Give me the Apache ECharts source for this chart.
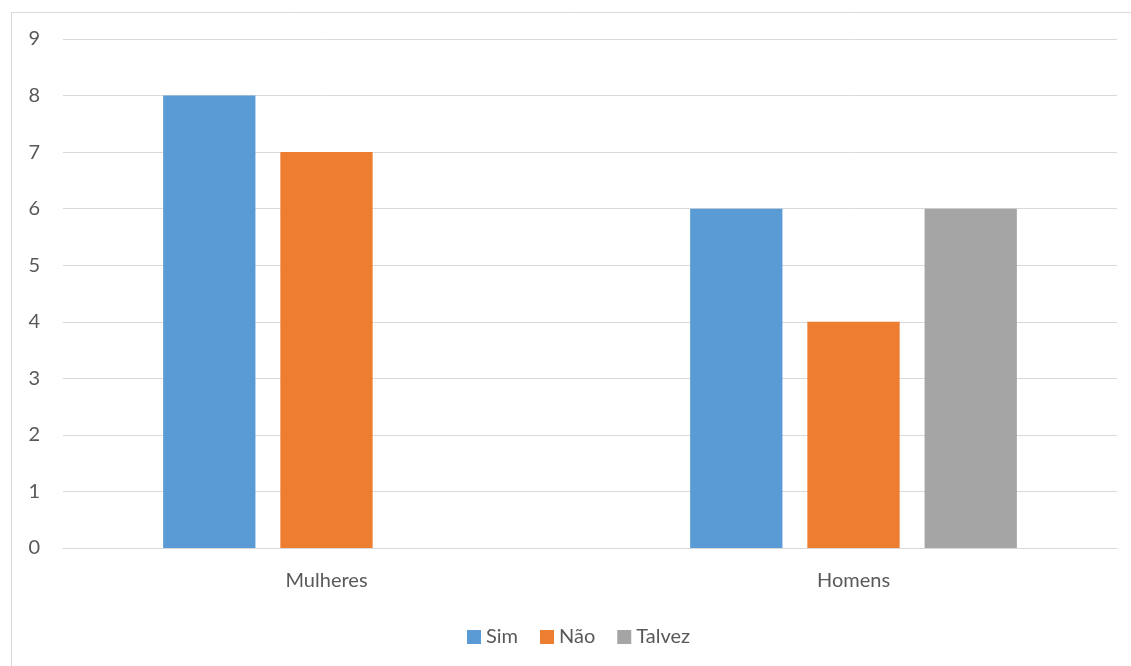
<!DOCTYPE html>
<html>
<head>
<meta charset="utf-8">
<style>
  html, body { margin: 0; padding: 0; background: #ffffff; }
  #chart { width: 1131px; height: 666px; }
</style>
<script src="https://cdn.jsdelivr.net/npm/echarts@6/dist/echarts.min.js"></script>
</head>
<body>
<div id="chart"></div>
<script>
// Survey answers by group
const categories = ['Mulheres', 'Homens'];
const seriesNames = ['Sim', 'Não', 'Talvez'];
const simValues = [8, 6];
const naoValues = [7, 4];
const talvezValues = [null, 6];
const seriesColors = ['#5b9bd5', '#ed7d31', '#a5a5a5'];

const font = 'Lato, "Open Sans", sans-serif';
const chart = echarts.init(document.getElementById('chart'), null, { renderer: 'canvas' });

const valueSets = [simValues, naoValues, talvezValues];

chart.setOption({
  animation: false,
  backgroundColor: '#ffffff',
  graphic: [{
    type: 'rect',
    shape: { x: 11.5, y: 12.5, width: 1130, height: 660 },
    style: { fill: 'none', stroke: '#d9d9d9', lineWidth: 1 },
    silent: true
  }],
  grid: { left: 63, right: 14, top: 39, bottom: 118, containLabel: false },
  legend: {
    bottom: 19,
    left: 467,
    padding: 0,
    itemWidth: 14,
    itemHeight: 14,
    itemGap: 22,
    icon: 'rect',
    textStyle: { color: '#595959', fontSize: 20, fontFamily: font },
    data: seriesNames
  },
  xAxis: {
    type: 'category',
    data: categories,
    axisLine: { show: true, lineStyle: { color: '#d9d9d9', width: 1 } },
    axisTick: { show: false },
    axisLabel: { color: '#595959', fontSize: 20, fontFamily: font, margin: 23 }
  },
  yAxis: {
    type: 'value',
    min: 0,
    max: 9,
    interval: 1,
    axisLine: { show: false },
    axisTick: { show: false },
    axisLabel: { color: '#595959', fontSize: 20, fontFamily: font, margin: 23 },
    splitLine: { lineStyle: { color: '#d9d9d9', width: 1 } }
  },
  series: seriesNames.map((name, i) => ({
    name: name,
    type: 'bar',
    data: valueSets[i],
    barGap: '27%',
    barCategoryGap: '38%',
    itemStyle: { color: seriesColors[i] }
  }))
});
</script>
</body>
</html>
